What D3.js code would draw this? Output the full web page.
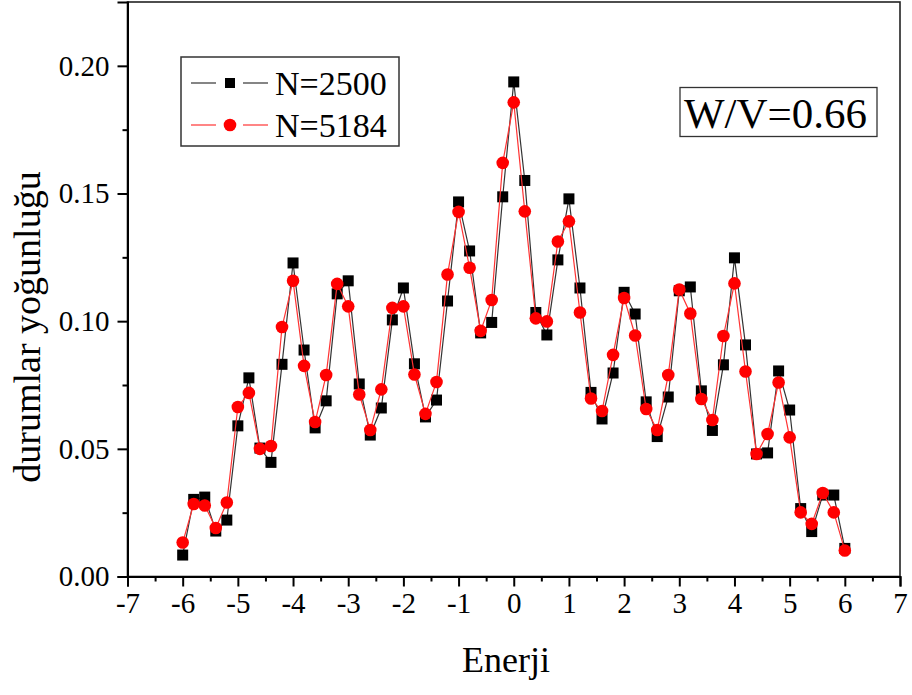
<!DOCTYPE html>
<html>
<head>
<meta charset="utf-8">
<script src="https://cdn.jsdelivr.net/npm/d3@7"></script>
<style>
  body { margin: 0; background: #fff; }
  text { font-family: "Liberation Serif", "Times New Roman", serif; fill: #000; }
</style>
</head>
<body>
<script>
// energies (x) and density of states for the two system sizes
var energies = [-6, -5.8, -5.6, -5.4, -5.2, -5, -4.8, -4.6, -4.4, -4.2,
  -4, -3.8, -3.6, -3.4, -3.2, -3, -2.8, -2.6, -2.4, -2.2,
  -2, -1.8, -1.6, -1.4, -1.2, -1, -0.8, -0.6, -0.4, -0.2,
  0, 0.2, 0.4, 0.6, 0.8, 1, 1.2, 1.4, 1.6, 1.8,
  2, 2.2, 2.4, 2.6, 2.8, 3, 3.2, 3.4, 3.6, 3.8,
  4, 4.2, 4.4, 4.6, 4.8, 5, 5.2, 5.4, 5.6, 5.8, 6];

var n2500 = [0.0084, 0.0302, 0.0311, 0.0178, 0.0221, 0.0590, 0.0778, 0.0503, 0.0447, 0.0831,
  0.1228, 0.0887, 0.0582, 0.0688, 0.1107, 0.1158, 0.0754, 0.0554, 0.0660, 0.1005,
  0.1130, 0.0833, 0.0625, 0.0691, 0.1079, 0.1467, 0.1275, 0.0954, 0.0995, 0.1487,
  0.1937, 0.1551, 0.1034, 0.0946, 0.1240, 0.1479, 0.1130, 0.0721, 0.0617, 0.0797,
  0.1113, 0.1028, 0.0684, 0.0548, 0.0703, 0.1119, 0.1134, 0.0727, 0.0572, 0.0829,
  0.1248, 0.0907, 0.0480, 0.0484, 0.0805, 0.0652, 0.0266, 0.0176, 0.0319, 0.0319, 0.0110];

var n5184 = [0.0133, 0.0284, 0.0278, 0.0190, 0.0290, 0.0664, 0.0719, 0.0500, 0.0511, 0.0977,
  0.1158, 0.0825, 0.0605, 0.0789, 0.1146, 0.1058, 0.0713, 0.0574, 0.0733, 0.1052,
  0.1058, 0.0791, 0.0637, 0.0762, 0.1183, 0.1428, 0.1209, 0.0962, 0.1083, 0.1620,
  0.1857, 0.1430, 0.1011, 0.0999, 0.1312, 0.1391, 0.1034, 0.0697, 0.0648, 0.0868,
  0.1091, 0.0944, 0.0656, 0.0574, 0.0789, 0.1124, 0.1030, 0.0695, 0.0613, 0.0942,
  0.1148, 0.0803, 0.0480, 0.0558, 0.0760, 0.0545, 0.0251, 0.0206, 0.0327, 0.0251, 0.0102];

var xTicks = [-7, -6, -5, -4, -3, -2, -1, 0, 1, 2, 3, 4, 5, 6, 7];
var yTicks = [0, 0.05, 0.10, 0.15, 0.20];
var seriesNames = ["N=2500", "N=5184"];

var width = 912, height = 695;

var svg = d3.select("body").append("svg")
  .attr("width", width)
  .attr("height", height);

var x = d3.scaleLinear().domain([-7, 7]).range([127.5, 900]);
var y = d3.scaleLinear().domain([0, 0.225]).range([576.5, 2]);

// frame
svg.append("rect")
  .attr("x", x(-7)).attr("y", y(0.225))
  .attr("width", x(7) - x(-7)).attr("height", y(0) - y(0.225))
  .style("fill", "none").style("stroke", "#222").style("stroke-width", 1.6);

// x axis (plain hyphen for negatives, like the original)
var xAxis = d3.axisBottom(x).tickValues(xTicks).tickSize(10)
  .tickFormat(function(d) { return String(d); });
var gx = svg.append("g").attr("transform", "translate(0," + y(0) + ")").call(xAxis);
gx.select(".domain").style("stroke-width", 2);
gx.selectAll(".tick line").style("stroke-width", 2);
gx.selectAll("text").style("font-size", "29px").attr("y", 16).attr("dy", "0.71em");

var xMinor = d3.axisBottom(x).tickValues(d3.range(-6.5, 7, 1)).tickSize(5).tickFormat("");
var gxm = svg.append("g").attr("transform", "translate(0," + y(0) + ")").call(xMinor);
gxm.select(".domain").remove();
gxm.selectAll(".tick line").style("stroke-width", 2);

// y axis
var yAxis = d3.axisLeft(y).tickValues(yTicks).tickSize(10).tickFormat(d3.format(".2f"));
var gy = svg.append("g").attr("transform", "translate(" + x(-7) + ",0)").call(yAxis);
gy.select(".domain").style("stroke-width", 2);
gy.selectAll(".tick line").style("stroke-width", 2);
gy.selectAll("text").style("font-size", "29px").attr("x", -18);

var yMinor = d3.axisLeft(y).tickValues([0.025, 0.075, 0.125, 0.175]).tickSize(5).tickFormat("");
var gym = svg.append("g").attr("transform", "translate(" + x(-7) + ",0)").call(yMinor);
gym.select(".domain").remove();
gym.selectAll(".tick line").style("stroke-width", 2);

// axis titles
svg.append("text")
  .attr("x", 506).attr("y", 672)
  .attr("text-anchor", "middle")
  .style("font-size", "36px")
  .text("Enerji");

svg.append("text")
  .attr("transform", "translate(40,327) rotate(-90)")
  .attr("text-anchor", "middle")
  .style("font-size", "38px")
  .text("durumlar yoğunluğu");

// series
var line1 = d3.line().x(function(d, i) { return x(energies[i]); }).y(function(d) { return y(d); });

svg.append("path").datum(n2500)
  .attr("d", line1)
  .style("fill", "none").style("stroke", "#333").style("stroke-width", 1.2);

svg.selectAll(".sq").data(n2500).enter().append("rect")
  .attr("class", "sq")
  .attr("x", function(d, i) { return x(energies[i]) - 5.5; })
  .attr("y", function(d) { return y(d) - 5.5; })
  .attr("width", 11).attr("height", 11)
  .style("fill", "#000");

svg.append("path").datum(n5184)
  .attr("d", line1)
  .style("fill", "none").style("stroke", "#f33").style("stroke-width", 1.2);

svg.selectAll(".ci").data(n5184).enter().append("circle")
  .attr("class", "ci")
  .attr("cx", function(d, i) { return x(energies[i]); })
  .attr("cy", function(d) { return y(d); })
  .attr("r", 6.3)
  .style("fill", "#f00");

// legend
var legend = svg.append("g");
legend.append("rect")
  .attr("x", 181).attr("y", 57).attr("width", 218).attr("height", 89)
  .style("fill", "#fff").style("stroke", "#333").style("stroke-width", 1.5);

var legY = [83, 125];
var legColor = ["#333", "#f33"];
seriesNames.forEach(function(name, i) {
  legend.append("line").attr("x1", 191).attr("x2", 216).attr("y1", legY[i]).attr("y2", legY[i])
    .style("stroke", legColor[i]).style("stroke-width", 1.2);
  legend.append("line").attr("x1", 243).attr("x2", 268).attr("y1", legY[i]).attr("y2", legY[i])
    .style("stroke", legColor[i]).style("stroke-width", 1.2);
  if (i == 0) {
    legend.append("rect").attr("x", 225).attr("y", legY[i] - 5).attr("width", 10).attr("height", 10)
      .style("fill", "#000");
  } else {
    legend.append("circle").attr("cx", 230).attr("cy", legY[i]).attr("r", 6.3)
      .style("fill", "#f00");
  }
  legend.append("text")
    .attr("x", 275).attr("y", legY[i] + 11.5)
    .style("font-size", "34px")
    .text(name);
});

// W/V label
svg.append("rect")
  .attr("x", 680).attr("y", 87.5).attr("width", 197).attr("height", 49)
  .style("fill", "#fff").style("stroke", "#333").style("stroke-width", 1.3);
svg.append("text")
  .attr("x", 684).attr("y", 128)
  .style("font-size", "43px")
  .text("W/V=0.66");
</script>
</body>
</html>
